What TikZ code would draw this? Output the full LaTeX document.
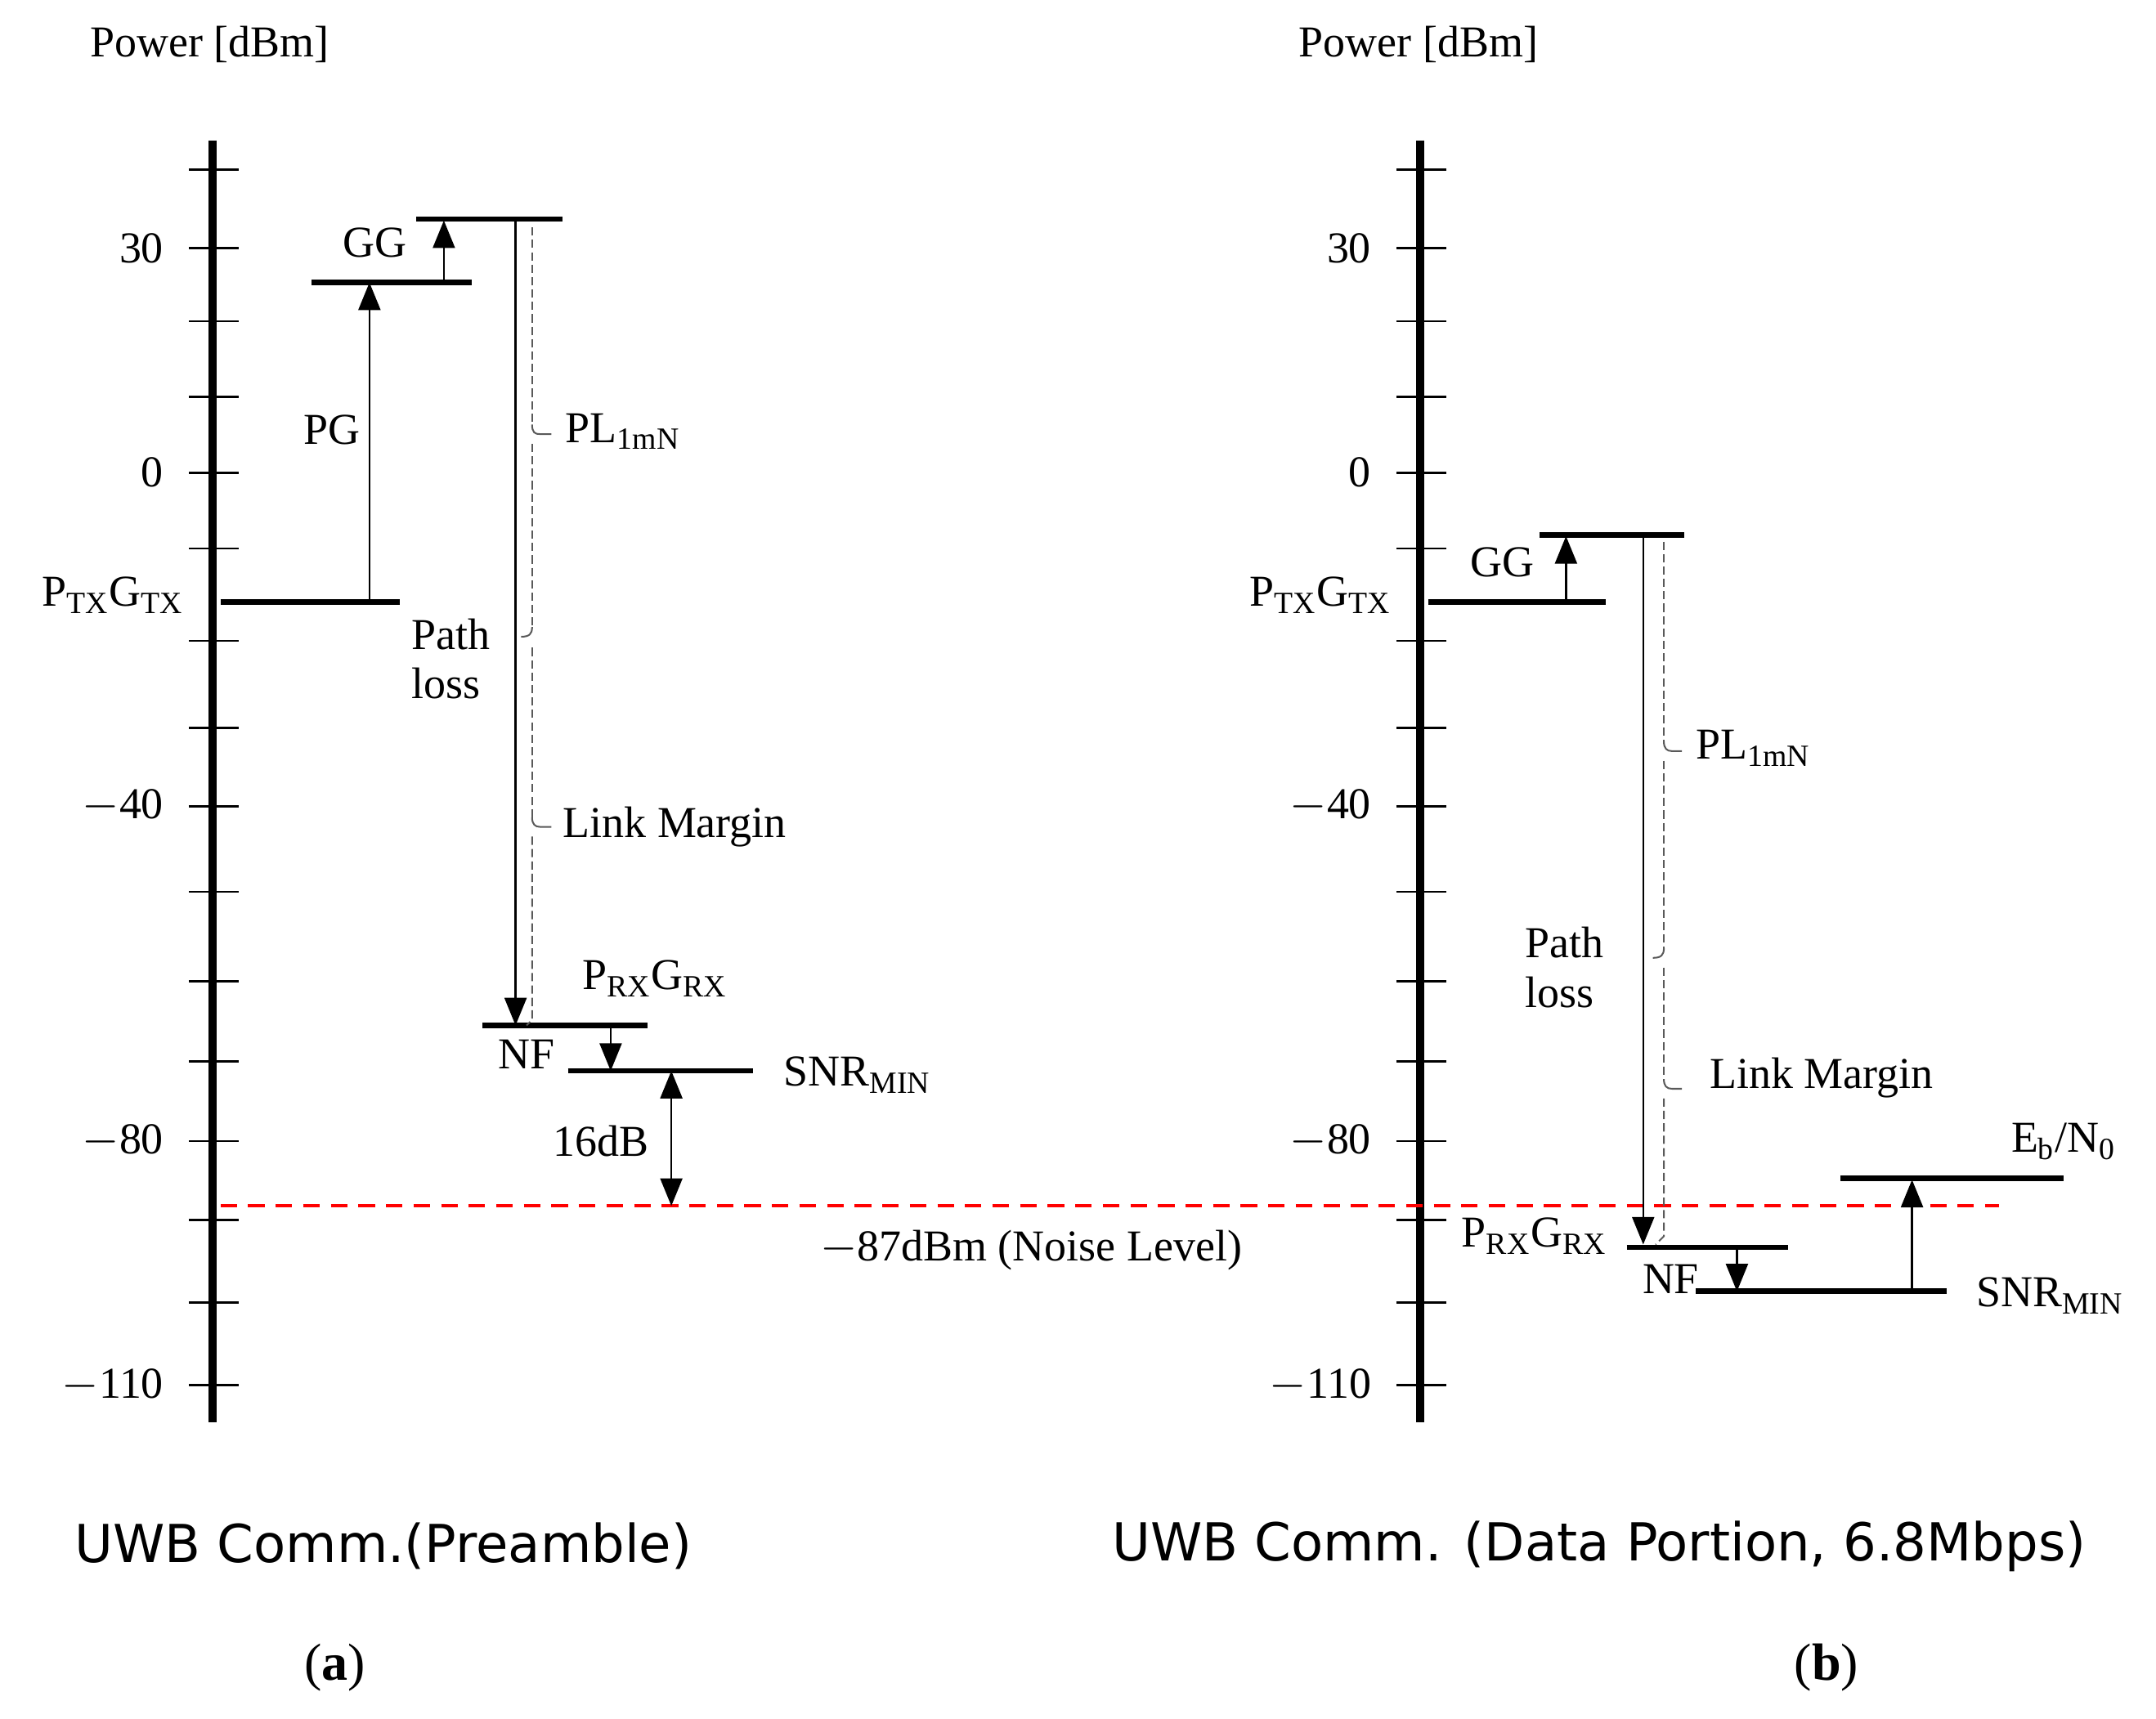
\documentclass[tikz,border=0pt]{standalone}
\usepackage{fontspec}
\setmainfont{Liberation Serif}
\newfontfamily\capfont{DejaVu Sans}
\usetikzlibrary{arrows.meta}
\begin{document}
\begin{tikzpicture}[x=0.5pt,y=-0.5pt,
  lbl/.style={font=\fontsize{16}{18}\selectfont,inner sep=0pt},
  captxt/.style={font=\capfont\fontsize{19}{22}\selectfont,inner sep=0pt},
  level/.style={line width=2pt},
  axis/.style={line width=3pt},
  tick/.style={line width=0.8pt},
  arr/.style={line width=0.7pt,-{Triangle[width=8pt,length=10pt]}},
  darr/.style={line width=0.7pt,{Triangle[width=8pt,length=10pt]}-{Triangle[width=8pt,length=10pt]}},
  dsh/.style={line width=0.6pt,gray!70!black,dash pattern=on 3pt off 1.5pt},
  bump/.style={line width=0.6pt,gray!70!black}]
\useasboundingbox (0,0) rectangle (1564,1247);
% axes
\foreach \ax in {154,1030}{
  \draw[axis] (\ax,102) -- (\ax,1032);
  \foreach \t in {123,180,233,288,343,398,465,528,585,647,712,770,828,885,945,1005}
    \draw[tick] (\ax-17,\t) -- (\ax+19,\t);
}
\foreach \ax/\px in {154/152,1030/1029}{
  \node[lbl] at (\px,32) {Power [dBm]};
  \node[lbl,anchor=east] at (\ax-35,180) {30};
  \node[lbl,anchor=east] at (\ax-35,343) {0};
  \node[lbl,anchor=east] at (\ax-35,585) {$-$40};
  \node[lbl,anchor=east] at (\ax-35,828) {$-$80};
  \node[lbl,anchor=east] at (\ax-35,1005) {$-$110};
}
% noise level
\draw[red,line width=1.2pt,dash pattern=on 6pt off 4pt] (160,875) coordinate (n1) -- (1450,875) coordinate (n2);
\node[lbl] (noise) at (748,907) {$-$87dBm (Noise Level)};

% ---------- (a) ----------
\draw[level] (160,437) coordinate (aT1) -- (290,437) coordinate (aT2);
\node[lbl] (aTl) at (82,432) {P\textsubscript{TX}G\textsubscript{TX}};
\draw[level] (226,205) coordinate (aP1) -- (342,205) coordinate (aP2);
\draw[level] (302,159) coordinate (aG1) -- (408,159) coordinate (aG2);
\draw[arr] (268,437) -- (268,205);
\node[lbl] (aPG) at (241,312) {PG};
\draw[arr] (322,205) -- (322,160);
\node[lbl] (aGG) at (272,176) {GG};
\draw[level] (350,744) coordinate (aR1) -- (470,744) coordinate (aR2);
\node[lbl] (aRl) at (475,710) {P\textsubscript{RX}G\textsubscript{RX}};
\draw[arr] (374,160) -- (374,744);
\draw[dsh] (386,165) -- (386,308);
\draw[bump] (386,308) .. controls (386,314) and (388,315) .. (392,315) -- (400,315);
\draw[dsh] (386,322) -- (386,455);
\draw[bump] (386,455) .. controls (386,460) and (384,462) .. (378,462);
\draw[dsh] (386,470) -- (386,593);
\draw[bump] (386,593) .. controls (386,598) and (388,600) .. (392,600) -- (400,600);
\draw[dsh] (386,607) -- (386,740) -- (382,744);
\node[lbl,anchor=west] (aPL) at (410,313) {PL\textsubscript{1mN}};
\node[lbl,anchor=west,align=left] (aPath) at (298,478) {Path\\loss};
\node[lbl,anchor=west] (aLM) at (408,600) {Link Margin};
\draw[level] (412,777) coordinate (aS1) -- (546,777) coordinate (aS2);
\draw[arr] (443,744) -- (443,777);
\node[lbl] (aNF) at (382,765) {NF};
\node[lbl] (aSNR) at (622,780) {SNR\textsubscript{MIN}};
\draw[darr] (487,777) -- (487,875);
\node[lbl] (a16) at (436,828) {16dB};
\node[captxt] (capa) at (278,1122) {UWB Comm.(Preamble)};
\node[lbl,font=\fontsize{19}{22}\selectfont] (la) at (243,1210) {(\textbf{a})};

% ---------- (b) ----------
\draw[level] (1036,437) coordinate (bT1) -- (1165,437) coordinate (bT2);
\node[lbl] (bTl) at (958,432) {P\textsubscript{TX}G\textsubscript{TX}};
\draw[level] (1117,388) coordinate (bG1) -- (1222,388) coordinate (bG2);
\draw[arr] (1136,437) -- (1136,389);
\node[lbl] (bGG) at (1090,408) {GG};
\draw[level] (1180,905) coordinate (bR1) -- (1297,905) coordinate (bR2);
\node[lbl] (bRl) at (1113,897) {P\textsubscript{RX}G\textsubscript{RX}};
\draw[arr] (1192,389) -- (1192,903);
\draw[dsh] (1207,393) -- (1207,538);
\draw[bump] (1207,538) .. controls (1207,543) and (1209,545) .. (1213,545) -- (1220,545);
\draw[dsh] (1207,552) -- (1207,688);
\draw[bump] (1207,688) .. controls (1207,693) and (1205,695) .. (1199,695);
\draw[dsh] (1207,702) -- (1207,783);
\draw[bump] (1207,783) .. controls (1207,788) and (1209,790) .. (1213,790) -- (1220,790);
\draw[dsh] (1207,797) -- (1207,897) -- (1201,903);
\node[lbl,anchor=west] (bPL) at (1230,543) {PL\textsubscript{1mN}};
\node[lbl,anchor=west,align=left] (bPath) at (1106,702) {Path\\loss};
\node[lbl,anchor=west] (bLM) at (1240,782) {Link Margin};
\draw[level] (1230,937) coordinate (bS1) -- (1412,937) coordinate (bS2);
\draw[arr] (1260,905) -- (1260,937);
\node[lbl] (bNF) at (1212,928) {NF};
\node[lbl] (bSNR) at (1487,940) {SNR\textsubscript{MIN}};
\draw[level] (1335,855) coordinate (bE1) -- (1497,855) coordinate (bE2);
\draw[arr] (1387,937) -- (1387,856);
\node[lbl] (bEb) at (1497,828) {E\textsubscript{b}/N\textsubscript{0}};
\node[captxt] (capb) at (1160,1122) {UWB Comm. (Data Portion, 6.8Mbps)};
\node[lbl,font=\fontsize{19}{22}\selectfont] (lb) at (1325,1210) {(\textbf{b})};
\end{tikzpicture}
\end{document}
